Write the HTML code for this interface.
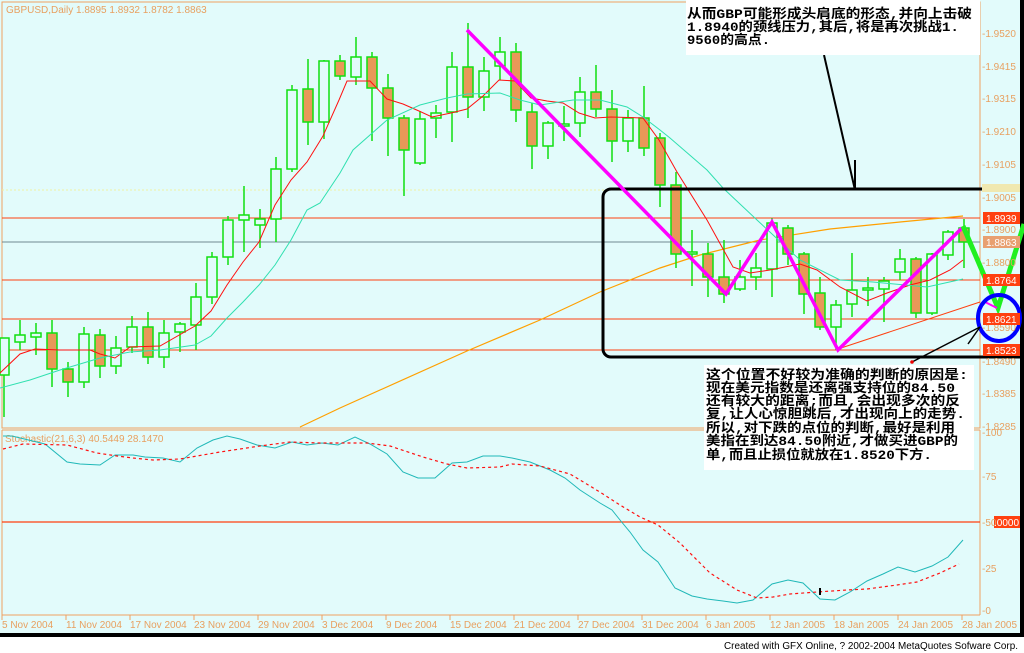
<!DOCTYPE html>
<html><head><meta charset="utf-8"><style>
html,body{margin:0;padding:0;background:#fff;}
svg{display:block;}
.ax{font-family:"Liberation Sans",sans-serif;font-size:10px;fill:#e8a060;}
.cn{font-family:"Liberation Mono","Noto Sans CJK SC",monospace;font-size:13px;font-weight:bold;fill:#000;}
</style></head><body>
<svg width="1024" height="653" viewBox="0 0 1024 653" xmlns="http://www.w3.org/2000/svg">
<rect x="0" y="0" width="1024" height="633" fill="#e2fbfb"/>
<rect x="0" y="633" width="1024" height="4" fill="#000"/>
<rect x="0" y="637" width="1024" height="16" fill="#fff"/>
<rect x="1020" y="0" width="4" height="633" fill="#000"/>
<rect x="2" y="2" width="978" height="426" fill="none" stroke="#f0a060" stroke-width="1"/>
<line x1="2" y1="430" x2="980" y2="430" stroke="#f0a060"/>
<line x1="2" y1="430" x2="2" y2="615" stroke="#f0a060"/>
<line x1="980" y1="430" x2="980" y2="615" stroke="#f0a060"/>
<line x1="2" y1="615" x2="980" y2="615" stroke="#f0a060"/>
<line x1="2" y1="190" x2="1020" y2="190" stroke="#f0f0a0" stroke-dasharray="2,2"/>
<line x1="2" y1="218" x2="980" y2="218" stroke="#ff4010"/>
<line x1="2" y1="242" x2="980" y2="242" stroke="#708890"/>
<line x1="2" y1="280" x2="980" y2="280" stroke="#ff4010"/>
<line x1="2" y1="319" x2="980" y2="319" stroke="#ff4010"/>
<line x1="2" y1="350" x2="980" y2="350" stroke="#ff4010"/>
<polyline fill="none" stroke="#ffa000" stroke-width="1.2" points="300,427 340,408 467,351 540,320 600,292 660,268 700,255 760,240 830,229 900,222 963,216"/>
<line x1="838" y1="349" x2="980" y2="302" stroke="#ff4010"/>
<g transform="translate(-1,0)" stroke="#10e010" stroke-width="1.5">
<path fill="none" d="M5 338V417M21 320V350M37 323V355M53 320V387M69 362V397M85 327V388M101 329V378M117 336V374M133 316V353M149 312V364M165 320V368M181 322V352M197 283V350M213 252V304M229 216V265M245 186V252M261 209V248M277 157V242M293 85V172M309 59V145M325 60V139M341 55V80M357 37V85M373 52V141M389 74V156M405 115V196M421 111V165M437 105V138M453 52V142M469 23V118M485 57V111M501 37V80M517 43V122M533 103V169M549 121V159M565 106V141M581 77V137M597 65V117M613 90V162M629 110V152M645 86V156M661 133V207M677 172V268M693 230V286M709 243V297M725 240V303M741 260V291M757 253V290M773 218V297M789 225V265M805 252V314M821 277V330M837 300V350M853 253V317M869 277V306M885 277V322M901 249V280M917 257V318M933 253V315M949 230V260M965 219V268"/>
<g fill="#e2fbfb">
<rect x="1" y="338" width="9" height="37"/><rect x="16" y="335" width="10" height="7"/><rect x="32" y="333" width="10" height="4"/>
<rect x="80" y="334" width="10" height="48"/><rect x="112" y="348" width="10" height="18"/><rect x="128" y="327" width="10" height="20"/>
<rect x="160" y="333" width="10" height="24"/><rect x="176" y="324" width="10" height="8"/><rect x="192" y="297" width="10" height="28"/>
<rect x="208" y="257" width="10" height="40"/><rect x="224" y="220" width="10" height="37"/><rect x="240" y="215" width="10" height="5"/>
<rect x="256" y="219" width="10" height="6"/><rect x="272" y="169" width="10" height="50"/><rect x="288" y="90" width="10" height="79"/>
<rect x="320" y="61" width="10" height="61"/><rect x="352" y="57" width="10" height="20"/><rect x="416" y="119" width="10" height="44"/>
<rect x="432" y="113" width="10" height="5"/><rect x="448" y="67" width="10" height="45"/><rect x="480" y="71" width="10" height="26"/>
<rect x="496" y="52" width="10" height="14"/><rect x="544" y="123" width="10" height="23"/><rect x="560" y="124" width="10" height="2"/>
<rect x="576" y="92" width="10" height="31"/><rect x="624" y="118" width="10" height="23"/><rect x="688" y="252" width="10" height="2"/>
<rect x="736" y="277" width="10" height="12"/><rect x="752" y="268" width="10" height="9"/><rect x="768" y="223" width="10" height="46"/>
<rect x="832" y="305" width="10" height="22"/><rect x="848" y="290" width="10" height="14"/><rect x="864" y="288" width="10" height="2"/>
<rect x="880" y="281" width="10" height="8"/><rect x="896" y="259" width="10" height="13"/><rect x="928" y="254" width="10" height="59"/>
<rect x="944" y="232" width="10" height="23"/>
</g>
<g fill="#e89858">
<rect x="48" y="333" width="10" height="36"/><rect x="64" y="369" width="10" height="13"/><rect x="96" y="335" width="10" height="31"/>
<rect x="144" y="327" width="10" height="30"/><rect x="304" y="89" width="10" height="33"/><rect x="336" y="61" width="10" height="15"/>
<rect x="368" y="57" width="10" height="31"/><rect x="384" y="88" width="10" height="30"/><rect x="400" y="118" width="10" height="32"/>
<rect x="464" y="67" width="10" height="30"/><rect x="512" y="52" width="10" height="58"/><rect x="528" y="112" width="10" height="34"/>
<rect x="592" y="92" width="10" height="17"/><rect x="608" y="109" width="10" height="32"/><rect x="640" y="118" width="10" height="30"/>
<rect x="656" y="138" width="10" height="47"/><rect x="672" y="185" width="10" height="69"/><rect x="704" y="254" width="10" height="23"/>
<rect x="720" y="277" width="10" height="17"/><rect x="784" y="228" width="10" height="26"/><rect x="800" y="254" width="10" height="40"/>
<rect x="816" y="293" width="10" height="34"/><rect x="912" y="259" width="10" height="54"/><rect x="960" y="228" width="10" height="14"/>
</g>
</g>
<polyline fill="none" stroke="#ff1010" stroke-width="1" points="0,373 20,354 35,349 60,350 90,350 100,354 115,358 130,347 160,346 195,326 211,311 227,285 243,262 259,242 275,205 291,180 307,162 323,136 339,100 347,81 370,81 387,99 403,104 419,111 432,117 451,113 467,109 483,96 499,80 515,81 531,98 547,101 563,103 579,113 595,118 611,117 643,118 659,140 677,172 707,220 733,267 750,273 770,270 800,264 817,270 840,287 867,301 887,293 910,285 930,280 950,270 963,260"/>
<polyline fill="none" stroke="#30e0b0" stroke-width="1" points="0,388 30,380 60,370 100,358 130,352 160,350 195,345 211,336 227,318 243,302 259,285 275,265 291,240 307,210 320,203 340,173 353,150 387,120 420,105 447,98 467,94 500,93 520,100 540,105 573,100 600,100 627,107 643,117 660,130 670,138 707,170 723,188 757,220 800,260 840,280 873,282 927,287 963,279"/>
<rect x="603" y="189" width="440" height="168" rx="8" fill="none" stroke="#000" stroke-width="3"/>
<polyline fill="none" stroke="#ff00ff" stroke-width="3.5" points="467,30 726,294 772,222 838,350 962,228"/>
<polyline fill="none" stroke="#20f020" stroke-width="5" points="963,226 998,308 1024,224"/>
<line x1="985" y1="302" x2="997" y2="308" stroke="#ff00ff" stroke-width="2"/>
<ellipse cx="999" cy="318" rx="21" ry="23" fill="none" stroke="#0000ff" stroke-width="4"/>
<polyline fill="none" stroke="#000" stroke-width="2" points="824,55 855,190"/>
<line x1="855" y1="160" x2="855" y2="190" stroke="#000" stroke-width="2"/>
<line x1="912" y1="362" x2="980" y2="327" stroke="#000" stroke-width="1.5"/>
<line x1="980" y1="327" x2="968" y2="344" stroke="#000" stroke-width="1.5"/>
<circle cx="912" cy="362" r="1.8" fill="#e00"/>
<rect x="686" y="0" width="294" height="55" fill="#fff"/>
<text class="cn" x="687" y="18" textLength="285" lengthAdjust="spacingAndGlyphs">从而GBP可能形成头肩底的形态,并向上击破</text>
<text class="cn" x="687" y="31" textLength="272" lengthAdjust="spacingAndGlyphs">1.8940的颈线压力,其后,将是再次挑战1.</text>
<text class="cn" x="687" y="44" textLength="83" lengthAdjust="spacingAndGlyphs">9560的高点.</text>
<rect x="704" y="365" width="270" height="105" fill="#fff"/>
<text class="cn" x="706" y="379" textLength="262" lengthAdjust="spacingAndGlyphs">这个位置不好较为准确的判断的原因是:</text>
<text class="cn" x="706" y="392" textLength="249" lengthAdjust="spacingAndGlyphs">现在美元指数是还离强支持位的84.50</text>
<text class="cn" x="706" y="405" textLength="254" lengthAdjust="spacingAndGlyphs">还有较大的距离;而且,会出现多次的反</text>
<text class="cn" x="706" y="418" textLength="259" lengthAdjust="spacingAndGlyphs">复,让人心惊胆跳后,才出现向上的走势.</text>
<text class="cn" x="706" y="432" textLength="249" lengthAdjust="spacingAndGlyphs">所以,对下跌的点位的判断,最好是利用</text>
<text class="cn" x="706" y="445" textLength="252" lengthAdjust="spacingAndGlyphs">美指在到达84.50附近,才做买进GBP的</text>
<text class="cn" x="706" y="459" textLength="226" lengthAdjust="spacingAndGlyphs">单,而且止损位就放在1.8520下方.</text>
<text class="ax" x="6" y="13">GBPUSD,Daily  1.8895 1.8932 1.8782 1.8863</text>
<g class="ax">
<text x="982" y="37">-1.9520</text><text x="982" y="70">-1.9415</text><text x="982" y="102">-1.9315</text>
<text x="982" y="135">-1.9210</text><text x="982" y="168">-1.9105</text><text x="982" y="201">-1.9005</text>
<text x="982" y="233">-1.8900</text><text x="982" y="266">-1.8800</text><text x="982" y="331">-1.8590</text>
<text x="982" y="365">-1.8490</text><text x="982" y="397">-1.8385</text><text x="982" y="430">-1.8285</text>
</g>
<rect x="982" y="184" width="38" height="8" fill="#f0e8b0"/>
<rect x="983" y="212" width="37" height="12" fill="#ff4010"/><text x="986" y="222" class="ax" style="fill:#fff">1.8939</text>
<rect x="983" y="236" width="37" height="12" fill="#e8a070"/><text x="986" y="246" class="ax" style="fill:#fff">1.8863</text>
<rect x="983" y="274" width="37" height="12" fill="#ff4010"/><text x="986" y="284" class="ax" style="fill:#fff">1.8764</text>
<rect x="983" y="313" width="37" height="12" fill="#ff4010"/><text x="986" y="323" class="ax" style="fill:#fff">1.8621</text>
<rect x="983" y="344" width="37" height="12" fill="#ff4010"/><text x="986" y="354" class="ax" style="fill:#fff">1.8523</text>
<text class="ax" x="5" y="442">Stochastic(21,6,3)  40.5449  28.1470</text>
<line x1="2" y1="522" x2="980" y2="522" stroke="#ff4010" stroke-width="1.2"/>
<polyline fill="none" stroke="#20b8b8" stroke-width="1" points="3,436 12,436 45,444 67,462 80,464 100,465 115,455 133,455 145,457 163,458 180,462 197,448 213,440 227,436 240,439 257,445 275,448 292,442 307,445 322,443 338,445 355,437 370,444 387,454 403,472 418,478 435,478 452,463 467,462 483,456 500,456 512,458 530,462 550,470 565,478 580,490 600,503 612,510 620,520 630,532 643,550 658,562 675,588 692,596 707,599 723,601 737,603 753,600 772,584 788,580 803,583 820,599 835,600 850,592 867,581 883,574 898,567 915,572 932,566 948,557 963,540"/>
<polyline fill="none" stroke="#ff1010" stroke-width="1.2" stroke-dasharray="3,3" points="3,449 23,444 67,445 97,453 117,456 133,458 153,460 180,459 197,456 220,452 240,449 260,446 290,442 320,443 367,443 390,446 423,457 447,464 467,468 500,467 512,464 540,466 570,474 590,486 603,494 620,505 640,517 658,525 680,543 710,573 737,590 757,598 773,597 790,594 817,592 847,590 867,589 897,585 917,582 940,573 959,564"/>
<line x1="820" y1="588" x2="820" y2="595" stroke="#000" stroke-width="2"/>
<g class="ax">
<text x="982" y="436">-100</text><text x="982" y="480">-75</text><text x="982" y="572">-25</text><text x="982" y="614">-0</text>
</g>
<rect x="994" y="516" width="26" height="12" fill="#ff4010"/><text x="982" y="526" class="ax">-50</text><text x="994" y="526" class="ax" style="fill:#fff">.0000</text>
<path stroke="#f0a060" d="M2 615v5M66 615v5M130 615v5M194 615v5M258 615v5M322 615v5M386 615v5M450 615v5M514 615v5M578 615v5M642 615v5M706 615v5M770 615v5M834 615v5M898 615v5M962 615v5"/>
<g class="ax">
<text x="2" y="628">5 Nov 2004</text><text x="66" y="628">11 Nov 2004</text><text x="130" y="628">17 Nov 2004</text>
<text x="194" y="628">23 Nov 2004</text><text x="258" y="628">29 Nov 2004</text><text x="322" y="628">3 Dec 2004</text>
<text x="386" y="628">9 Dec 2004</text><text x="450" y="628">15 Dec 2004</text><text x="514" y="628">21 Dec 2004</text>
<text x="578" y="628">27 Dec 2004</text><text x="642" y="628">31 Dec 2004</text><text x="706" y="628">6 Jan 2005</text>
<text x="770" y="628">12 Jan 2005</text><text x="834" y="628">18 Jan 2005</text><text x="898" y="628">24 Jan 2005</text>
<text x="962" y="628">28 Jan 2005</text>
</g>
<text x="724" y="649" textLength="294" lengthAdjust="spacingAndGlyphs" style="font-family:'Liberation Sans',sans-serif;font-size:10px;fill:#000">Created with GFX Online, ? 2002-2004 MetaQuotes Sofware Corp.</text>
</svg>
</body></html>
